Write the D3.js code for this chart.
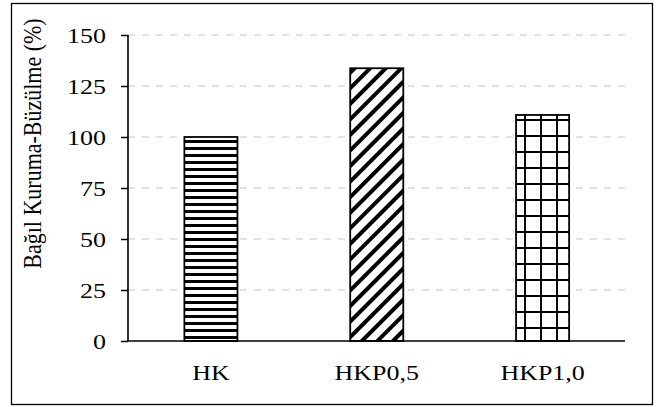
<!DOCTYPE html>
<html>
<head>
<meta charset="utf-8">
<script src="https://cdn.jsdelivr.net/npm/d3@7"></script>
<style>
  html, body { margin: 0; padding: 0; background: #fff; }
  svg { display: block; }
  text { font-family: "Liberation Serif", "Times New Roman", serif; fill: #000; }
</style>
</head>
<body>
<svg id="chart" width="656" height="407"></svg>
<script>
// Relative drying shrinkage per mix
const categories = ["HK", "HKP0,5", "HKP1,0"];
const values = [100, 133.7, 110.8];
const patterns = ["hstripe", "diag", "grid"];
const yTicks = [0, 25, 50, 75, 100, 125, 150];
const yTitle = "Bağıl Kuruma-Büzülme (%)";

const W = 656, H = 407;
const svg = d3.select("#chart");
const textScaleX = 1.18;

// Hatch patterns for the bars
const defs = svg.append("defs");
const ph = defs.append("pattern").attr("id", "hstripe")
  .attr("patternUnits", "userSpaceOnUse").attr("width", 8).attr("height", 7);
ph.append("rect").attr("width", 8).attr("height", 7).attr("fill", "#fff");
ph.append("rect").attr("y", 0).attr("width", 8).attr("height", 3).attr("fill", "#000");

const pd = defs.append("pattern").attr("id", "diag")
  .attr("patternUnits", "userSpaceOnUse").attr("width", 11).attr("height", 11)
  .attr("patternTransform", "rotate(45)");
pd.append("rect").attr("width", 11).attr("height", 11).attr("fill", "#fff");
pd.append("rect").attr("x", 0).attr("width", 4).attr("height", 11).attr("fill", "#000");

const pg = defs.append("pattern").attr("id", "grid")
  .attr("patternUnits", "userSpaceOnUse").attr("width", 16).attr("height", 16)
  .attr("x", 12).attr("y", 7);
pg.append("rect").attr("width", 16).attr("height", 16).attr("fill", "#fff");
pg.append("rect").attr("x", 0).attr("width", 2).attr("height", 16).attr("fill", "#000");
pg.append("rect").attr("y", 0).attr("width", 16).attr("height", 2).attr("fill", "#000");

// Outer frame
svg.append("rect").attr("x", 11.5).attr("y", 3.5).attr("width", 641).attr("height", 401)
  .attr("fill", "none").attr("stroke", "#000").attr("stroke-width", 1.3);

const x = d3.scaleBand().domain(categories).range([128, 625.5])
  .paddingInner(0.68).paddingOuter(0.34);
const y = d3.scaleLinear().domain([0, 150]).range([341, 35]);

// Gridlines
svg.append("g").selectAll("line").data(yTicks.filter(d => d > 0)).join("line")
  .attr("x1", 128).attr("x2", 625)
  .attr("y1", d => y(d)).attr("y2", d => y(d))
  .attr("stroke", "#d9d9d9").attr("stroke-width", 1.5)
  .attr("stroke-dasharray", "7,7");

// Bars
svg.append("g").selectAll("rect").data(categories).join("rect")
  .attr("x", d => x(d)).attr("width", x.bandwidth())
  .attr("y", (d, i) => y(values[i]))
  .attr("height", (d, i) => y(0) - y(values[i]))
  .attr("fill", (d, i) => `url(#${patterns[i]})`)
  .attr("stroke", "#000").attr("stroke-width", 1.8);

// Y axis
const yAxis = svg.append("g").attr("transform", "translate(128,0)")
  .call(d3.axisLeft(y).tickValues(yTicks).tickSize(7).tickFormat(""));
yAxis.select(".domain").attr("stroke", "#000").attr("stroke-width", 1.6)
  .attr("d", `M0,${y(150)}V${y(0)}`);
yAxis.selectAll(".tick line").attr("stroke", "#000").attr("stroke-width", 1.5);

svg.append("g").selectAll("text").data(yTicks).join("text")
  .attr("transform", d => `translate(106,${y(d) + 7.5}) scale(${textScaleX},1)`)
  .attr("text-anchor", "end").attr("font-size", 22)
  .text(d => d);

// X axis
svg.append("line").attr("x1", 127).attr("x2", 625)
  .attr("y1", 341).attr("y2", 341)
  .attr("stroke", "#000").attr("stroke-width", 1.6);

svg.append("g").selectAll("text").data(categories).join("text")
  .attr("transform", d => `translate(${x(d) + x.bandwidth() / 2},380) scale(${textScaleX},1)`)
  .attr("text-anchor", "middle").attr("font-size", 22)
  .text(d => d);

// Y axis title
svg.append("text")
  .attr("transform", `translate(41,143.5) scale(${textScaleX},1) rotate(-90)`)
  .attr("text-anchor", "middle").attr("font-size", 22)
  .text(yTitle);
</script>
</body>
</html>
